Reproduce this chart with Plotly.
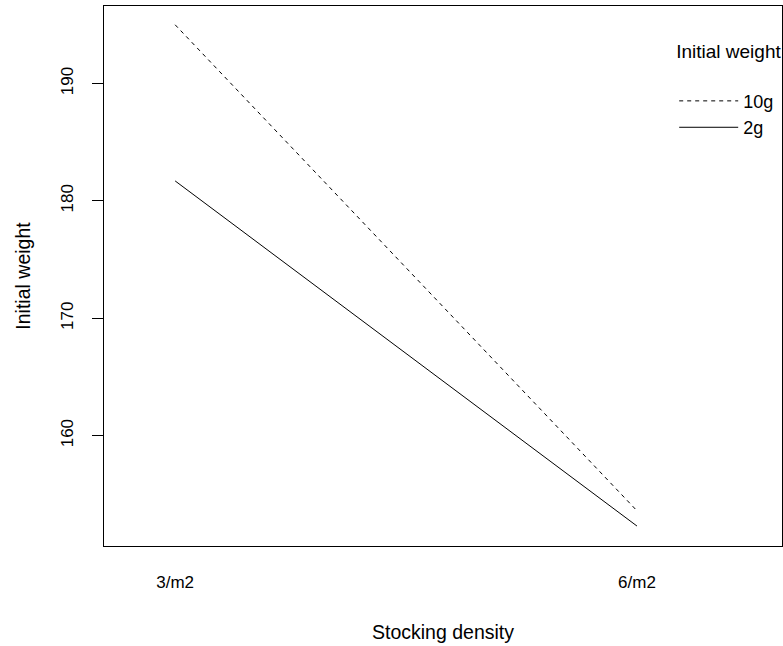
import plotly.graph_objects as go

density_levels = ["3/m2", "6/m2"]
weight_10g = [195.0, 153.6]
weight_2g = [181.7, 152.3]
series_names = ["10g", "2g"]
y_ticks = [160, 170, 180, 190]

x_pos = list(range(1, len(density_levels) + 1))
FONT = "Liberation Sans, Arial, sans-serif"

fig = go.Figure()
fig.add_trace(go.Scatter(x=x_pos, y=weight_10g, mode="lines", name=series_names[0],
                         line=dict(color="black", width=1, dash="4px,4px")))
fig.add_trace(go.Scatter(x=x_pos, y=weight_2g, mode="lines", name=series_names[1],
                         line=dict(color="black", width=1)))

fig.update_layout(
    width=783, height=646,
    margin=dict(l=104, r=1, t=6, b=100, autoexpand=False),
    paper_bgcolor="white", plot_bgcolor="white",
    font=dict(family=FONT, size=17, color="black"),
    showlegend=True,
    legend=dict(x=0.841, y=0.9495, xanchor="left", yanchor="top",
                title=dict(text="Initial weight<br><span style='font-size:30px'> </span>",
                           font=dict(size=19)),
                bgcolor="rgba(0,0,0,0)", font=dict(size=18),
                tracegroupgap=0, itemwidth=59),
    xaxis=dict(range=[0.846, 2.314], tickvals=x_pos, ticktext=density_levels,
               showgrid=False, zeroline=False, showline=True, linecolor="black",
               linewidth=1, mirror=True, ticks="", ticklabelstandoff=21,
               automargin=False, tickfont=dict(size=17),
               title=dict(text="Stocking density", standoff=33, font=dict(size=19.5))),
    yaxis=dict(range=[150.6, 196.6], tickvals=y_ticks, tickangle=-90,
               showgrid=False, zeroline=False, showline=True, linecolor="black",
               linewidth=1, mirror=True, ticks="outside", ticklen=11, tickcolor="black",
               ticklabelstandoff=12, automargin=False, tickfont=dict(size=17),
               title=dict(text="Initial weight", standoff=22, font=dict(size=19.5))),
)

fig.write_html("out.html", config={"displayModeBar": False},
               post_script="document.body.style.margin='0';")
